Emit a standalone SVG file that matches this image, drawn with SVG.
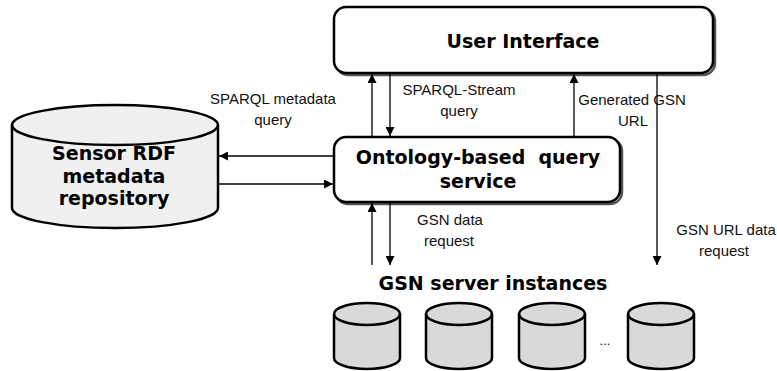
<svg xmlns="http://www.w3.org/2000/svg" width="777" height="371" viewBox="0 0 777 371">
<defs>
<marker id="ah" viewBox="0 0 10 10" refX="10" refY="5" markerWidth="9" markerHeight="9" markerUnits="userSpaceOnUse" orient="auto">
<path d="M0,0 L10,5 L0,10 Z" fill="#000"/>
</marker>
<style>
.box{fill:#fff;stroke:#000;stroke-width:2.5}
.shadow{fill:none;stroke:#555;stroke-width:2.5}
.cyl{stroke:#000;stroke-width:2.5}
.big{fill:#f0f0f0}
.small{fill:#d9d9d9}
.title{font-family:"DejaVu Sans",sans-serif;font-weight:bold;font-size:19px;fill:#000;text-anchor:middle}
.lbl{font-family:"Liberation Sans",Arial,sans-serif;font-size:15px;fill:#111;text-anchor:middle}
.conn line{stroke:#000;stroke-width:1.3;marker-end:url(#ah)}
</style>
</defs>
<rect width="777" height="371" fill="#fff"/>

<g id="user-interface">
<rect class="shadow" x="336" y="9" width="379" height="66" rx="12"/>
<rect class="box" x="334" y="7" width="379" height="66" rx="12"/>
<text class="title" x="523" y="48">User Interface</text>
</g>

<g id="query-service">
<rect class="shadow" x="336" y="139" width="286" height="65" rx="12"/>
<rect class="box" x="334" y="137" width="286" height="65" rx="12"/>
<text class="title" x="478" y="164" xml:space="preserve">Ontology-based  query</text>
<text class="title" x="478" y="188">service</text>
</g>

<g id="rdf-repository">
<path class="cyl big" d="M12,125 L12,208 A103,20 0 0 0 218,208 L218,125 A103,20 0 0 0 12,125 Z"/>
<path class="cyl" fill="none" d="M12,125 A103,20 0 0 0 218,125"/>
<text class="title" x="114" y="160">Sensor RDF</text>
<text class="title" x="114" y="183">metadata</text>
<text class="title" x="114" y="205">repository</text>
</g>

<g id="gsn-servers">
<text class="title" x="493" y="290">GSN server instances</text>
<g id="gsn1">
<path class="cyl small" d="M334,314 L334,358 A33,11 0 0 0 400,358 L400,314 A33,11 0 0 0 334,314 Z"/>
<path class="cyl" fill="none" d="M334,314 A33,11 0 0 0 400,314"/>
</g>
<g id="gsn2">
<path class="cyl small" d="M426,314 L426,358 A33,11 0 0 0 492,358 L492,314 A33,11 0 0 0 426,314 Z"/>
<path class="cyl" fill="none" d="M426,314 A33,11 0 0 0 492,314"/>
</g>
<g id="gsn3">
<path class="cyl small" d="M519,314 L519,358 A33,11 0 0 0 585,358 L585,314 A33,11 0 0 0 519,314 Z"/>
<path class="cyl" fill="none" d="M519,314 A33,11 0 0 0 585,314"/>
</g>
<text class="lbl" x="605" y="345" style="font-size:13px">...</text>
<g id="gsn4">
<path class="cyl small" d="M628,314 L628,358 A33,11 0 0 0 694,358 L694,314 A33,11 0 0 0 628,314 Z"/>
<path class="cyl" fill="none" d="M628,314 A33,11 0 0 0 694,314"/>
</g>
</g>

<g id="connectors" class="conn">
<line x1="372" y1="137" x2="372" y2="74"/>
<line x1="390" y1="74" x2="390" y2="136"/>
<line x1="574" y1="137" x2="574" y2="74"/>
<line x1="657" y1="74" x2="657" y2="265"/>
<line x1="372" y1="265" x2="372" y2="203"/>
<line x1="390" y1="203" x2="390" y2="265"/>
<line x1="334" y1="156" x2="219" y2="156"/>
<line x1="218" y1="184" x2="333" y2="184"/>
</g>

<g id="labels">
<text class="lbl" x="273" y="104">SPARQL metadata</text>
<text class="lbl" x="273" y="125">query</text>
<text class="lbl" x="459" y="95">SPARQL-Stream</text>
<text class="lbl" x="459" y="116">query</text>
<text class="lbl" x="632" y="105">Generated GSN</text>
<text class="lbl" x="633" y="126">URL</text>
<text class="lbl" x="450" y="225">GSN data</text>
<text class="lbl" x="449" y="246">request</text>
<text class="lbl" x="726" y="235">GSN URL data</text>
<text class="lbl" x="724" y="256">request</text>
</g>
</svg>
